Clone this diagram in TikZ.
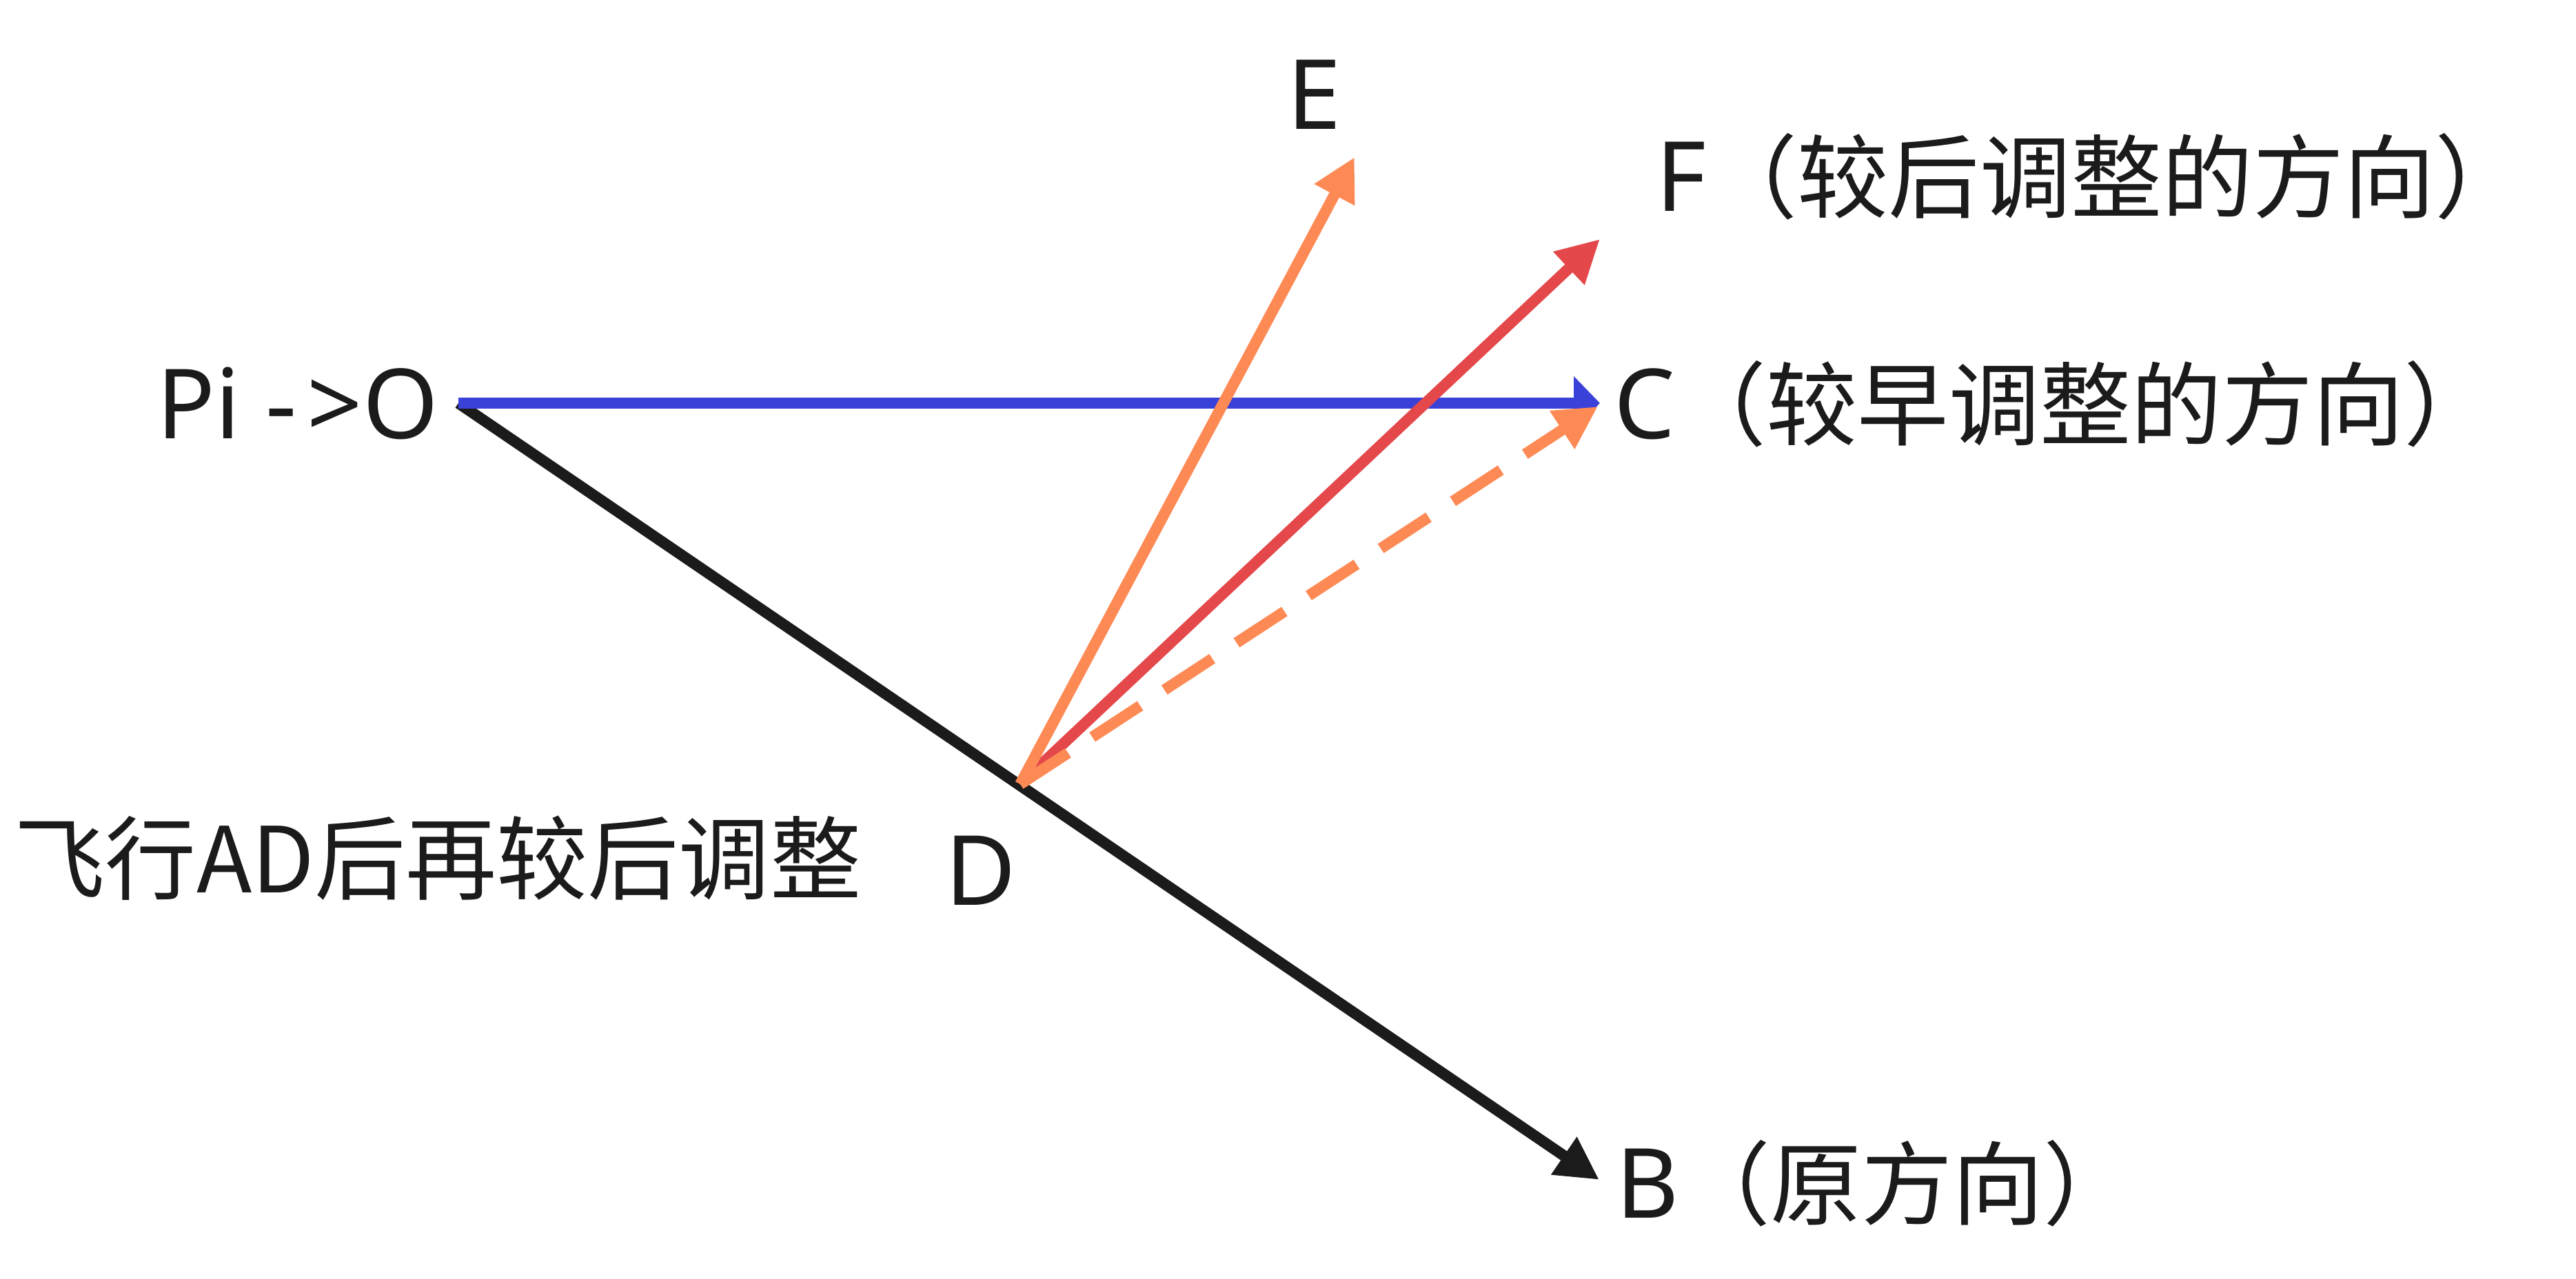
\documentclass[tikz,border=0pt]{standalone}
\usepackage{fontspec}
\setmainfont{Noto Sans}
\newfontfamily\cjk[Scale=0.94]{Noto Sans CJK SC}
\usetikzlibrary{arrows.meta}

\definecolor{lineblue}{HTML}{3A41D8}
\definecolor{linered}{HTML}{E4484B}
\definecolor{lineorange}{HTML}{FD8A55}
\definecolor{inkblack}{HTML}{1B1B1B}

\tikzset{
  vec/.style={line width=1.6mm, -{Triangle[length=6.2mm,width=6.2mm]}},
  lbl/.style={inner sep=0pt, text=inkblack, font=\fontsize{40pt}{48pt}\selectfont},
}

\begin{document}
\begin{tikzpicture}

  \useasboundingbox (0,0) rectangle (37.37,18.56);

  %% points
  \coordinate (O) at (6.65,12.71);
  \coordinate (C) at (23.21,12.71);
  \coordinate (F) at (23.21,15.09);
  \coordinate (E) at (19.65,16.28);
  \coordinate (Cd) at (23.18,12.66);
  \coordinate (D) at (14.80,7.18);
  \coordinate (B) at (23.20,1.44);

  \draw[vec, inkblack] (O) -- (B); %% original
  \draw[line width=1.6mm, lineblue, -{Triangle[length=3.8mm,width=7.6mm]}] (O) -- (C); %% early
  \draw[vec, linered] (D) -- (F); %% late
  \draw[vec, lineorange] (D) -- (E);
  \draw[vec, lineorange, dash pattern=on 8.3mm off 4.2mm] (D) -- (Cd);

  \node[lbl, anchor=base east] (po) at (6.37,12.19) {Pi -\kern1.5mm>O};
  \node[lbl, anchor=base] (le) at (19.07,16.68) {E};
  \node[lbl, anchor=base west] (lf) at (24.02,15.49) {F\cjk{（较后调整的方向）}};
  \node[lbl, anchor=base west] (lc) at (23.41,12.19) {C\cjk{（较早调整的方向）}};
  \node[lbl, anchor=base west] (lb) at (23.44,0.88) {B\cjk{（原方向）}};
  \node[lbl, anchor=base west] (lad) at (0.20,5.60) {\cjk{飞行}AD\cjk{后再较后调整}};
  \node[lbl, anchor=base west] (ld) at (13.71,5.42) {D};

\end{tikzpicture}
\end{document}
